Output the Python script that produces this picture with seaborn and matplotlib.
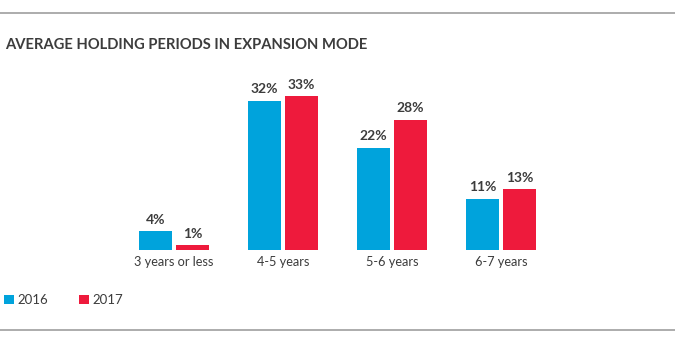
import matplotlib
matplotlib.use("Agg")
import matplotlib.pyplot as plt
from matplotlib.lines import Line2D
import seaborn as sns
import pandas as pd

categories = ["3 years or less", "4-5 years", "5-6 years", "6-7 years"]
years = ["2016", "2017"]
values_2016 = [4, 32, 22, 11]
values_2017 = [1, 33, 28, 13]

palette = {"2016": "#00a3dc", "2017": "#ee1a3c"}
text_color = "#3c3c3c"

df = pd.DataFrame({
    "period": categories * 2,
    "year": [years[0]] * len(categories) + [years[1]] * len(categories),
    "share": values_2016 + values_2017,
})

sns.set_theme(style="white")
plt.rcParams["font.family"] = ["Lato", "DejaVu Sans"]

W, H = 675, 344
fig = plt.figure(figsize=(W / 100, H / 100), dpi=100)

# axes placed in pixel terms: left 119.5, right 555.5, top 87, baseline 250
ax = fig.add_axes([119.5 / W, 1 - 250 / H, 436 / W, 163 / H])

sns.barplot(data=df, x="period", y="share", hue="year", order=categories,
            hue_order=years, palette=palette, width=0.68, gap=0.11,
            saturation=1, ax=ax, edgecolor="none")

ax.set_xlim(-0.5, 3.5)
ax.set_ylim(0, 35)
ax.set_xlabel("")
ax.set_ylabel("")
ax.set_yticks([])
for s in ax.spines.values():
    s.set_visible(False)
ax.tick_params(axis="x", length=0, pad=4, labelsize=9.2, labelcolor=text_color)

for cont in ax.containers:
    ax.bar_label(cont, fmt="%d%%", padding=4, fontsize=10, fontweight="bold",
                 color=text_color)

# legend
leg = ax.get_legend()
handles = leg.legend_handles
leg.remove()
fig.legend(handles, years, loc="center left", bbox_to_anchor=(0.0, 1 - 300 / H),
           ncol=2, frameon=False, fontsize=9.5, handlelength=0.75,
           handleheight=0.75, handletextpad=0.3, columnspacing=2.3,
           borderaxespad=0, borderpad=0.3, labelcolor=text_color)

# title
fig.text(5 / W, 1 - 45 / H, "AVERAGE HOLDING PERIODS IN EXPANSION MODE",
         fontsize=10.6, fontweight="bold", color=text_color, va="center", ha="left")

# horizontal rules
for y in (13, 330):
    fig.add_artist(Line2D([0, 1], [1 - y / H, 1 - y / H], color="#9e9e9e", lw=1.2))

fig.savefig("out.png", dpi=100)
